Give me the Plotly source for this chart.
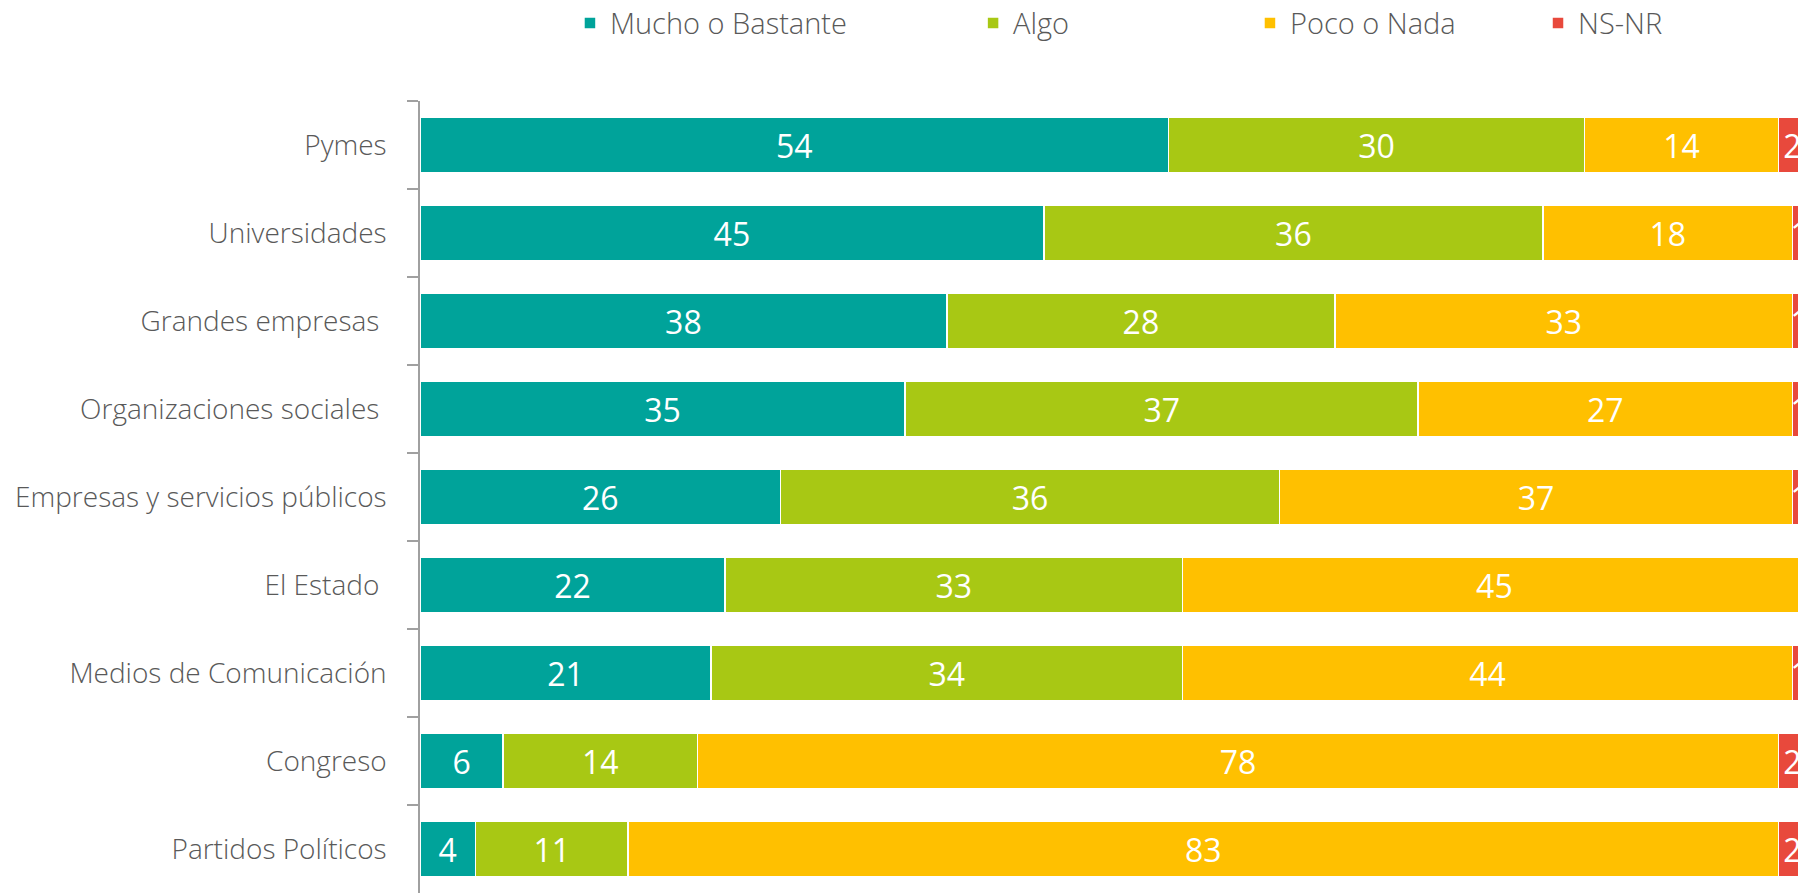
import plotly.graph_objects as go

categories = ["Pymes", "Universidades", "Grandes empresas\u00a0", "Organizaciones sociales\u00a0",
              "Empresas y servicios públicos", "El Estado\u00a0", "Medios de Comunicación",
              "Congreso", "Partidos Políticos"]
mucho = [54, 45, 38, 35, 26, 22, 21, 6, 4]
algo = [30, 36, 28, 37, 36, 33, 34, 14, 11]
poco = [14, 18, 33, 27, 37, 45, 44, 78, 83]
nsnr = [2, 1, 1, 1, 1, 0, 1, 2, 2]

series = [
    ("Mucho o Bastante", mucho, "#00A39A"),
    ("Algo", algo, "#A8C814"),
    ("Poco o Nada", poco, "#FFC000"),
    ("NS-NR", nsnr, "#E8493C"),
]

FONT = "Open Sans, Noto Sans, sans-serif"
GREY = "#595959"

fig = go.Figure()
legend_ids = ["legend", "legend2", "legend3", "legend4"]
for (name, vals, color), lg in zip(series, legend_ids):
    fig.add_trace(go.Bar(
        y=categories, x=vals, name=name, orientation="h",
        marker=dict(color=color, line=dict(color="white", width=1.5)),
        text=[str(v) if v > 0 else "" for v in vals],
        textposition="inside", insidetextanchor="middle",
        textangle=0, constraintext="none",
        textfont=dict(family=FONT, size=32, color="white", weight=400),
        legend=lg, hoverinfo="x+y+name",
    ))

leg_x = [0.3170, 0.5412, 0.6952, 0.8554]
legend_common = dict(orientation="h", xref="container", yref="container",
                     y=0.974, yanchor="middle", xanchor="left",
                     bgcolor="rgba(0,0,0,0)", borderwidth=0,
                     font=dict(family=FONT, size=29, color=GREY, weight=300))
layout_legends = {lg: dict(x=x, **legend_common) for lg, x in zip(legend_ids, leg_x)}

fig.update_layout(
    width=1798, height=893,
    margin=dict(l=420, r=0, t=101, b=0, pad=0, autoexpand=False),
    barmode="stack", bargap=0.36,
    plot_bgcolor="white", paper_bgcolor="white",
    showlegend=True,
    **layout_legends,
    xaxis=dict(range=[0, 99.4], visible=False, showgrid=False, zeroline=False, fixedrange=True),
    yaxis=dict(
        categoryorder="array", categoryarray=categories, autorange="reversed",
        showline=True, linecolor="#A0A0A0", linewidth=1.5,
        ticks="outside", tickson="boundaries", ticklen=11, tickwidth=1.5, tickcolor="#A0A0A0",
        ticklabelstandoff=26,
        tickfont=dict(family=FONT, size=28, color=GREY, weight=300),
        showgrid=False, zeroline=False, fixedrange=True,
    ),
)

fig.write_html(
    "out.html",
    config={"displayModeBar": False},
    post_script="document.body.style.margin='0';document.body.style.overflow='hidden';",
)
